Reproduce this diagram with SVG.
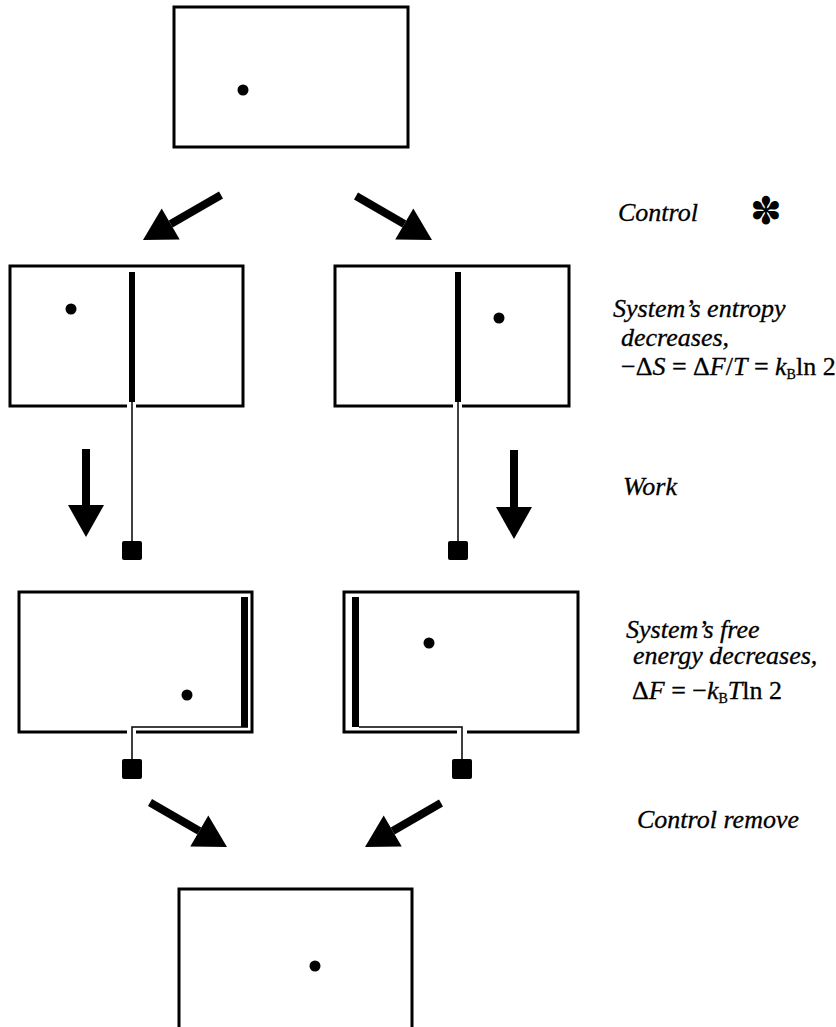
<svg xmlns="http://www.w3.org/2000/svg" width="836" height="1027" viewBox="0 0 836 1027">
  <style>
    .box { fill: none; stroke: #000; stroke-width: 3; }
    .rod { fill: none; stroke: #000; stroke-width: 1.5; }
    .solid { fill: #000; }
    .shaft { fill: none; stroke: #000; stroke-width: 8; }
    .cap { fill: #000; stroke: #000; stroke-width: 0.3; }
  </style>
  <defs>
    <marker id="head" markerUnits="userSpaceOnUse" markerWidth="33" markerHeight="37" refX="0" refY="18" orient="auto" overflow="visible">
      <path d="M0,0 L32,18 L0,36 z" fill="#000"/>
    </marker>
  </defs>

  <rect width="836" height="1027" fill="#fff"/>

  <!-- initial state: one particle anywhere in the box -->
  <g id="start">
    <rect class="box" x="174" y="7" width="234" height="140"/>
    <circle class="solid" cx="243" cy="90" r="5.5"/>
  </g>

  <!-- partition inserted, particle found on the left -->
  <g id="split-left">
    <path class="box" d="M127,406 H10 V266 H243 V406 H136"/>
    <rect class="solid" x="129" y="272" width="6" height="130"/>
    <line class="rod" x1="132" y1="402" x2="132" y2="542"/>
    <rect class="solid" x="122" y="541" width="20" height="19" rx="2"/>
    <circle class="solid" cx="71" cy="309" r="5.5"/>
  </g>

  <!-- partition inserted, particle found on the right -->
  <g id="split-right">
    <path class="box" d="M453,406 H335 V266 H569 V406 H462"/>
    <rect class="solid" x="455" y="272" width="6" height="130"/>
    <line class="rod" x1="458" y1="402" x2="458" y2="542"/>
    <rect class="solid" x="448" y="541" width="20" height="19" rx="2"/>
    <circle class="solid" cx="499" cy="318" r="5.5"/>
  </g>

  <!-- piston pushed to the right wall, weight lifted -->
  <g id="expanded-left">
    <path class="box" d="M127,732 H19 V592 H252 V732 H136"/>
    <rect class="solid" x="241" y="597" width="7" height="130"/>
    <path class="rod" d="M248,727 H132 V760"/>
    <rect class="solid" x="122" y="759" width="20" height="20" rx="2"/>
    <circle class="solid" cx="187" cy="695" r="5.5"/>
  </g>

  <!-- piston pushed to the left wall, weight lifted -->
  <g id="expanded-right">
    <path class="box" d="M457,732 H344 V592 H578 V732 H467"/>
    <rect class="solid" x="352" y="597" width="7" height="130"/>
    <path class="rod" d="M359,727 H462 V760"/>
    <rect class="solid" x="452" y="759" width="20" height="20" rx="2"/>
    <circle class="solid" cx="429" cy="643" r="5.5"/>
  </g>

  <!-- back to the initial state -->
  <g id="end">
    <path class="box" d="M179,1030 V889 H412 V1030"/>
    <circle class="solid" cx="315" cy="966" r="5.5"/>
  </g>

  <!-- process arrows -->
  <g id="connectors" marker-end="url(#head)">
    <line class="shaft" x1="221" y1="195" x2="170.7" y2="224"/>
    <line class="shaft" x1="356" y1="196" x2="404.3" y2="224"/>
    <line class="shaft" x1="86" y1="449" x2="86" y2="505"/>
    <line class="shaft" x1="514" y1="450" x2="514" y2="507"/>
    <line class="shaft" x1="150" y1="802.5" x2="199.3" y2="831"/>
    <line class="shaft" x1="441" y1="803" x2="392.7" y2="831"/>
  </g>

  <!-- step captions -->
  <g id="captions" font-size="26">
    <text class="cap" x="618" y="221" font-family="Liberation Serif" font-style="italic">Control</text>
    <text x="750" y="224" font-family="DejaVu Sans" font-size="38" fill="#000">✽</text>

    <text class="cap" x="613" y="317" font-family="Liberation Serif" font-style="italic">System’s entropy</text>
    <text class="cap" x="621" y="346" font-family="Liberation Serif" font-style="italic">decreases,</text>
    <text class="cap" x="621" y="375" font-family="Liberation Serif">−Δ<tspan font-style="italic">S</tspan> = Δ<tspan font-style="italic">F</tspan>/<tspan font-style="italic">T</tspan> = <tspan font-style="italic">k</tspan><tspan font-size="14" dy="4">B</tspan><tspan dy="-4">ln 2</tspan></text>

    <text class="cap" x="623" y="495" font-family="Liberation Serif" font-style="italic">Work</text>

    <text class="cap" x="626" y="638" font-family="Liberation Serif" font-style="italic">System’s free</text>
    <text class="cap" x="633" y="664" font-family="Liberation Serif" font-style="italic">energy decreases,</text>
    <text class="cap" x="632" y="699" font-family="Liberation Serif">Δ<tspan font-style="italic">F</tspan> = −<tspan font-style="italic">k</tspan><tspan font-size="14" dy="4">B</tspan><tspan font-style="italic" dy="-4">T</tspan>ln 2</text>

    <text class="cap" x="637" y="828" font-family="Liberation Serif" font-style="italic">Control remove</text>
  </g>
</svg>
